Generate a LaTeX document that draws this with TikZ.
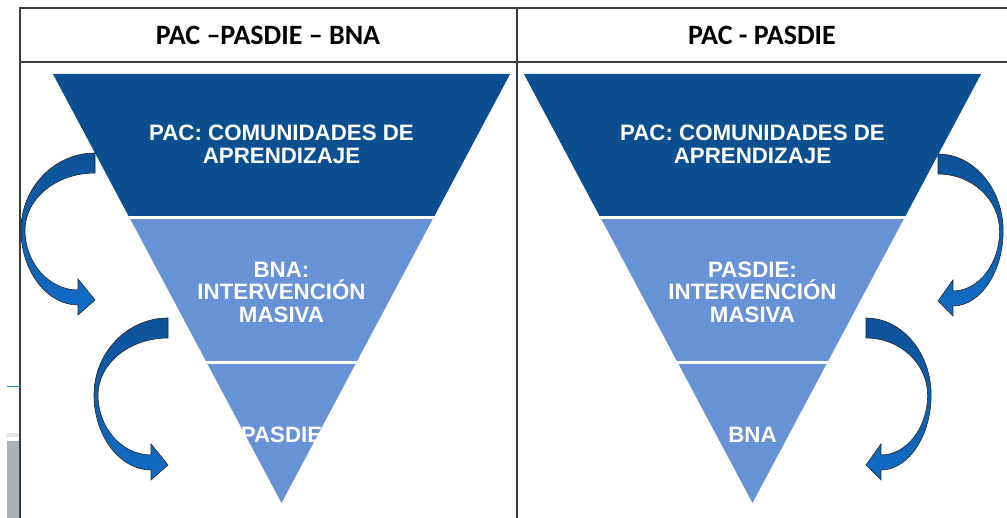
\documentclass[tikz,border=0pt]{standalone}
\usepackage{fontspec}
\setmainfont{Liberation Sans}
\newfontfamily\hdrfont{Carlito}
\definecolor{banddark}{RGB}{11,79,145}
\definecolor{bandlight}{RGB}{104,146,214}
\definecolor{arrowtop}{RGB}{13,82,152}
\definecolor{arrowbot}{RGB}{16,108,200}
\definecolor{rulegray}{RGB}{60,60,60}
\definecolor{edgephoto}{RGB}{168,178,188}
\newcommand{\bentarrow}{%
  \draw[bent] (0,0) .. controls (-41,0) and (-74,35) .. (-74,77)
    .. controls (-74,118) and (-48,152) .. (-17,152)
    -- (-17,162) -- (0,147) -- (-17,126) -- (-17,137)
    .. controls (-46,137) and (-70,110) .. (-70,77)
    .. controls (-70,46) and (-39,20) .. (0,20) -- cycle;%
}

\begin{document}
\begin{tikzpicture}[x=1pt, y=-1pt,
  tablerule/.style={rulegray, line width=1.2pt},
  hdr/.style={font=\hdrfont\bfseries\fontsize{28}{30}\selectfont},
  bandtxt/.style={text=white, align=center, inner sep=0pt,
    font=\bfseries\fontsize{22.3}{22.5}\selectfont},
  sep/.style={white, line width=3pt},
  bent/.style={draw=black!85, line width=0.6pt, top color=arrowtop, bottom color=arrowbot}]

\useasboundingbox (0,0) rectangle (1007,518);

% table
\draw[tablerule] (20,8) -- (1007,8);
\draw[tablerule] (20,62) -- (1007,62);
\draw[tablerule] (20,7) -- (20,518);
\draw[tablerule] (517,7) -- (517,518);
\node[hdr] (hdrL) at (268,35) {PAC –PASDIE – BNA};
\node[hdr] (hdrR) at (762,35) {PAC - PASDIE};

% bits of the page at the left edge
\draw[cyan!80!blue, line width=1pt] (7,387) -- (20,387);
\fill[gray!20] (7,433) rectangle (19.4,437);
\fill[edgephoto] (7,441) rectangle (19.4,518);

% left funnel
\begin{scope}
\clip (53,74) -- (510,74) -- (281.5,503) -- cycle;
\fill[bandlight] (0,0) rectangle (1007,518);
\fill[banddark] (0,74) rectangle (1007,216);
\draw[sep] (0,217.5) -- (1007,217.5);
\draw[sep] (0,362.5) -- (1007,362.5);
\end{scope}
\node[bandtxt] (pacL) at (281.5,144.5) {PAC: COMUNIDADES DE\\APRENDIZAJE};
\node[bandtxt] (bnaL) at (281.5,292) {BNA:\\INTERVENCIÓN\\MASIVA};
\node[bandtxt] (pasL) at (281.5,435) {PASDIE};

% right funnel
\begin{scope}
\clip (524,74) -- (981,74) -- (752.5,503) -- cycle;
\fill[bandlight] (0,0) rectangle (1007,518);
\fill[banddark] (0,74) rectangle (1007,216);
\draw[sep] (0,217.5) -- (1007,217.5);
\draw[sep] (0,362.5) -- (1007,362.5);
\end{scope}
\node[bandtxt] (pacR) at (752.5,144.5) {PAC: COMUNIDADES DE\\APRENDIZAJE};
\node[bandtxt] (pasR) at (752.5,292) {PASDIE:\\INTERVENCIÓN\\MASIVA};
\node[bandtxt] (bnaR) at (752.5,435) {BNA};

% curved arrows
\begin{scope}[shift={(95,153)}] \bentarrow \end{scope}
\begin{scope}[shift={(168,318)}] \bentarrow \end{scope}
\begin{scope}[shift={(938,154)}, xscale=-0.88] \bentarrow \end{scope}
\begin{scope}[shift={(866,318)}, xscale=-0.88] \bentarrow \end{scope}

\end{tikzpicture}
\end{document}
